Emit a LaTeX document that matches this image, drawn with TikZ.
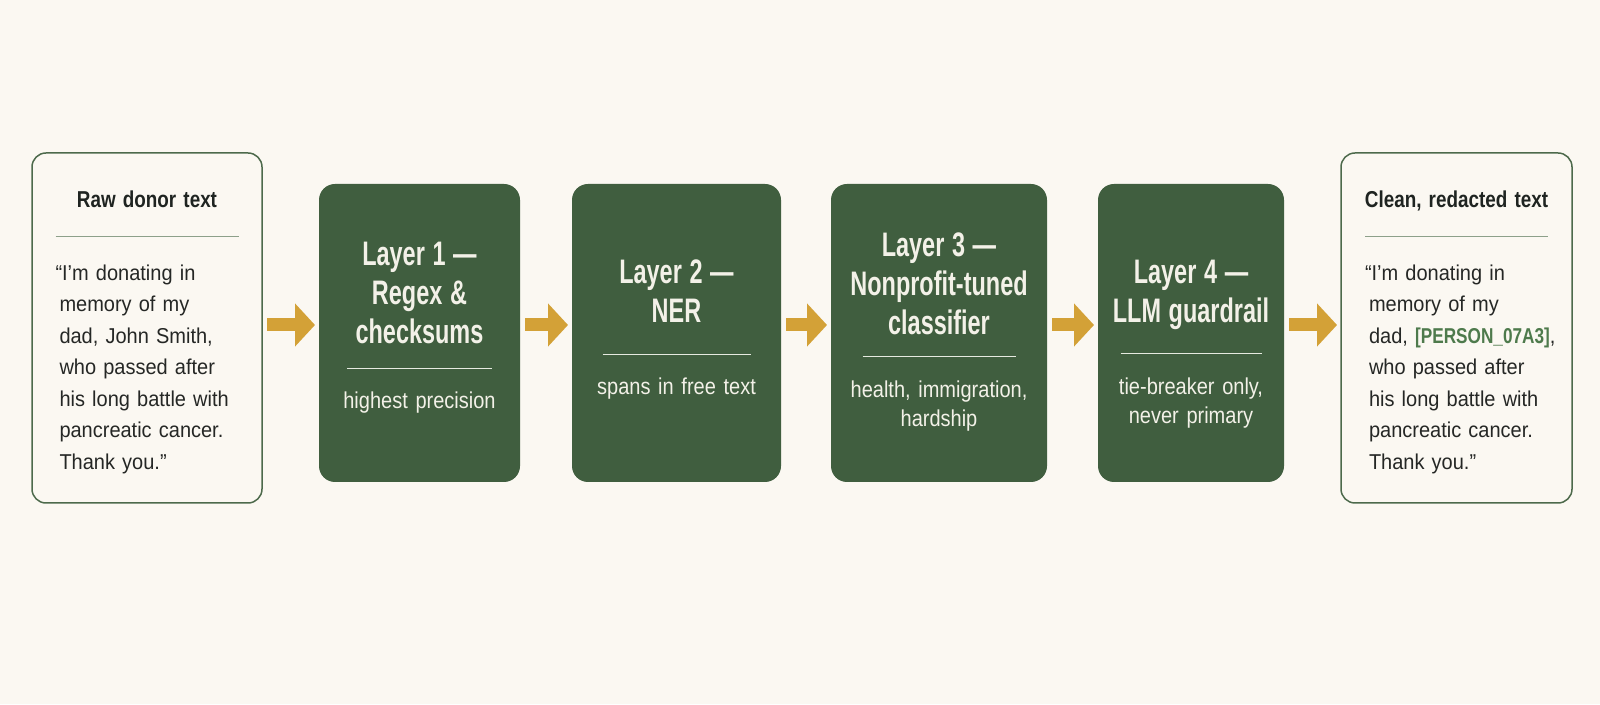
\documentclass[tikz,border=0pt]{standalone}
\usepackage{fontspec}
\setmainfont{Liberation Sans}
\newfontfamily\narrowsans{Liberation Sans}[FakeStretch=0.69, WordSpace=0.6]
\newfontfamily\bodysans{Liberation Sans}[FakeStretch=0.93, WordSpace=0.9]
\newfontfamily\subsans{Liberation Sans}[FakeStretch=0.87, WordSpace=0.7]
\newfontfamily\headsans{Liberation Sans}[FakeStretch=0.82, WordSpace=0.8]
\newfontfamily\redactsans{Liberation Sans}[FakeStretch=0.80]
\usetikzlibrary{arrows.meta,positioning}

\definecolor{bgcream}{HTML}{FBF8F2}
\definecolor{layergreen}{HTML}{405E3F}
\definecolor{boxline}{HTML}{4D6A4C}
\definecolor{greyrule}{HTML}{8DA08A}
\definecolor{paper}{HTML}{F3F1E8}
\definecolor{paperline}{HTML}{E6EAE0}
\definecolor{headink}{HTML}{1F2421}
\definecolor{bodyink}{HTML}{252725}
\definecolor{redactgreen}{HTML}{4E7A4C}
\definecolor{arrowgold}{HTML}{D3A137}

\newcommand{\lytitle}{\narrowsans\bfseries\fontsize{34}{39}\selectfont}
\newcommand{\lysub}{\subsans\fontsize{23}{29}\selectfont}
\newcommand{\srchead}{\headsans\bfseries\fontsize{23}{29}\selectfont}
\newcommand{\srcbody}{\bodysans\fontsize{21.5}{31.5}\selectfont}
\newcommand{\sepline}[1]{\textcolor{paperline}{\rule{#1}{1.2pt}}}
\newcommand{\redact}[1]{{\color{redactgreen}\redactsans\bfseries #1}}

\tikzset{
	srcbox/.style={rectangle, draw=boxline, line width=1.5pt, rounded corners=14pt, fill=bgcream,
		minimum width=230pt, minimum height=350pt, text width=183pt, align=left,
		font=\srcbody, text=bodyink, inner sep=0pt, outer sep=0pt},
	layerbox/.style={rectangle, rounded corners=16pt, fill=layergreen, minimum height=298pt,
		align=center, font=\lysub, text=paper, inner sep=0pt, outer sep=0pt},
	flowarr/.style={-{Triangle[length=20pt,width=42pt]}, line width=13pt, draw=arrowgold,
		shorten <=5pt, shorten >=4pt}
}

\begin{document}
\begin{tikzpicture}[x=1pt, y=1pt]
	\fill[bgcream] (0,0) rectangle (1600,704);
	\useasboundingbox (0,0) rectangle (1600,704);

	\node[srcbox] (raw) at (147,376) {\makebox[\hsize][c]{\color{headink}\srchead Raw donor text}\par
		\vspace{-1.5pt}\textcolor{greyrule}{\rule{\hsize}{1.2pt}}\par\vspace{11.5pt}
		“I’m donating in\\\hspace*{4pt}memory of my\\\hspace*{4pt}\mbox{dad, John Smith,}\\\hspace*{4pt}\mbox{who passed after}\\
		\hspace*{4pt}\mbox{his long battle with}\\\hspace*{4pt}\mbox{pancreatic cancer.}\\\hspace*{4pt}Thank you.”\par\vspace{-8pt}};
	\node[layerbox, minimum width=201pt, text width=185pt, right=57pt of raw, yshift=-5pt] (l1)
		{{\lytitle Layer 1 —\\Regex \&\\checksums\par}\vspace{-4pt}\sepline{145pt}\par\vspace{11pt}highest precision\par\vspace{10pt}};
	\node[layerbox, minimum width=209pt, text width=193pt, right=52pt of l1] (l2)
		{{\lytitle Layer 2 —\\NER\par}\vspace{3pt}\sepline{148pt}\par\vspace{11pt}spans in free text\par\vspace{6pt}};
	\node[layerbox, minimum width=216pt, text width=200pt, right=50pt of l2] (l3)
		{{\lytitle Layer 3 —\\Nonprofit-tuned\\classifier\par}\vspace{-6pt}\sepline{153pt}\par\vspace{11pt}health, immigration,\\hardship\par\vspace{2pt}};
	\node[layerbox, minimum width=186pt, text width=174pt, right=51pt of l3] (l4)
		{{\lytitle Layer 4 —\\LLM guardrail\par}\vspace{3pt}\sepline{141pt}\par\vspace{11pt}tie-breaker only,\\never primary\par\vspace{-22pt}};
	\node[srcbox, minimum width=231pt, right=57pt of l4, yshift=5pt] (clean) {\makebox[\hsize][c]{\color{headink}\srchead Clean, redacted text}\par
		\vspace{-1.5pt}\textcolor{greyrule}{\rule{\hsize}{1.2pt}}\par\vspace{11.5pt}
		“I’m donating in\\\hspace*{4pt}memory of my\\\hspace*{4pt}\mbox{dad, \redact{[PERSON\_07A3]},}\\\hspace*{4pt}\mbox{who passed after}\\
		\hspace*{4pt}\mbox{his long battle with}\\\hspace*{4pt}\mbox{pancreatic cancer.}\\\hspace*{4pt}Thank you.”\par\vspace{-8pt}};

	\draw[flowarr] ([yshift=3pt]raw.east) -- ([yshift=3pt]raw.east -| l1.west);
	\draw[flowarr] ([yshift=8pt]l1.east) -- ([yshift=8pt]l1.east -| l2.west);
	\draw[flowarr] ([yshift=8pt]l2.east) -- ([yshift=8pt]l2.east -| l3.west);
	\draw[flowarr] ([yshift=8pt]l3.east) -- ([yshift=8pt]l3.east -| l4.west);
	\draw[flowarr] ([yshift=8pt]l4.east) -- ([yshift=8pt]l4.east -| clean.west);
\end{tikzpicture}
\end{document}
